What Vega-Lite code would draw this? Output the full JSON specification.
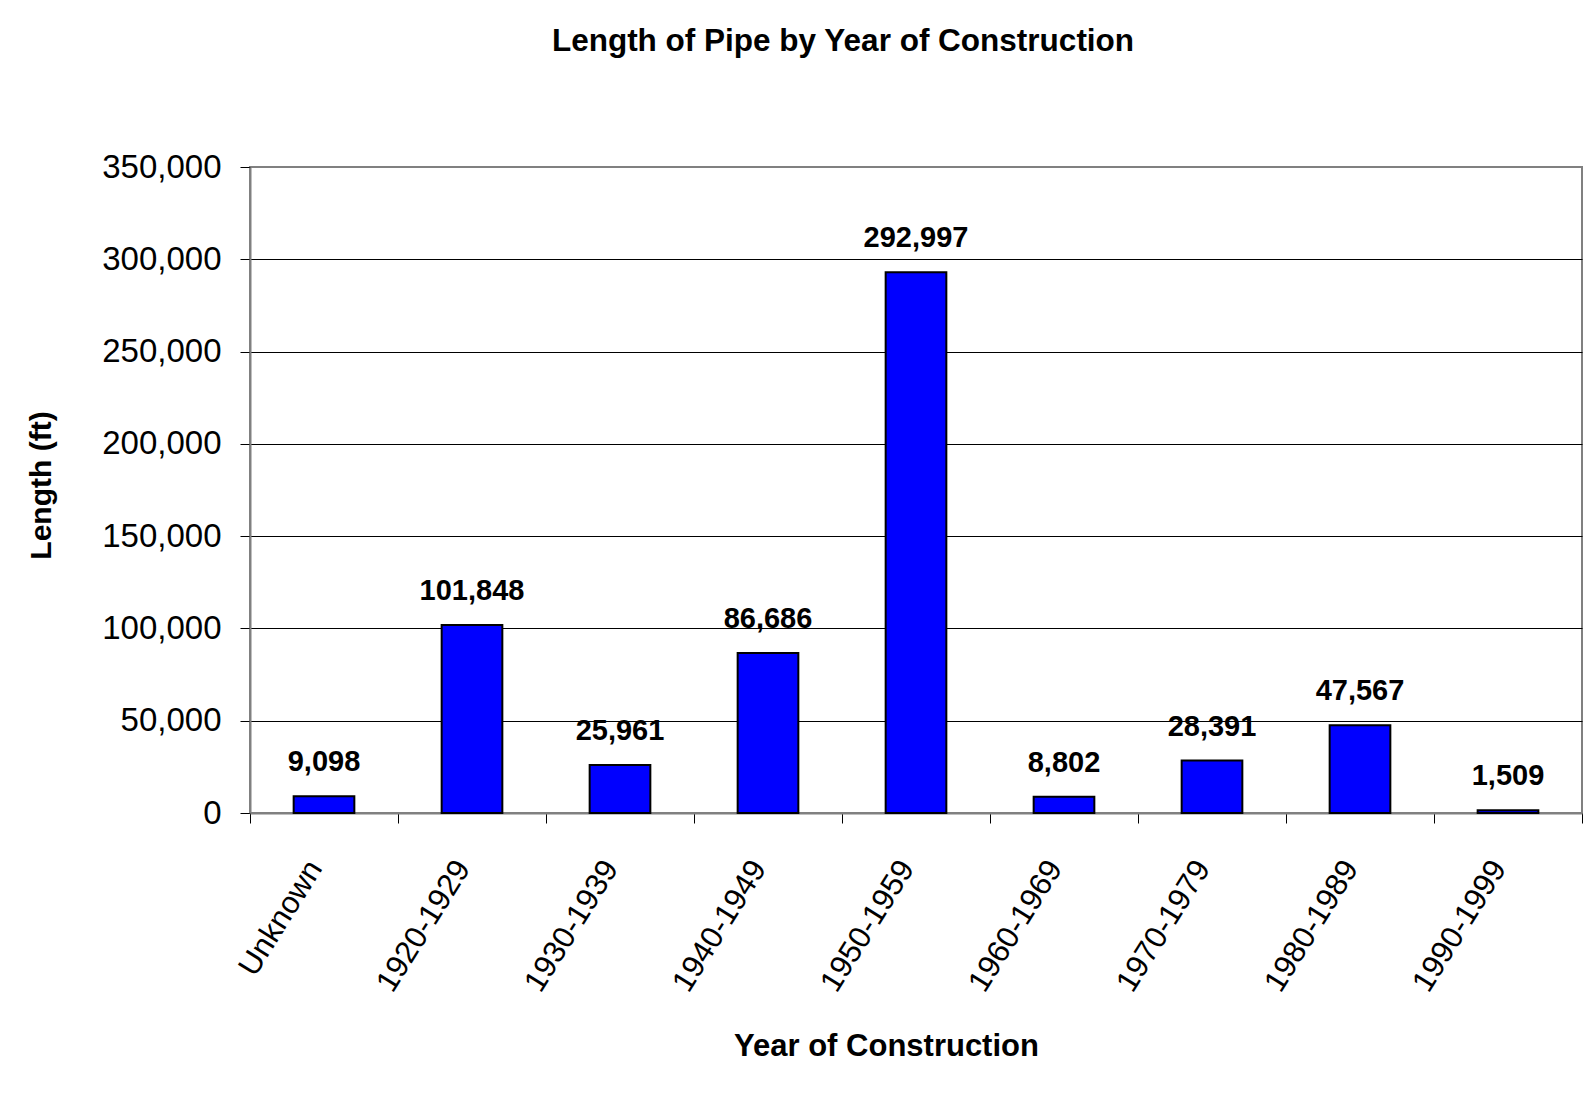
{
  "$schema": "https://vega.github.io/schema/vega-lite/v6.json",
  "width": 1332,
  "height": 646,
  "autosize": {"type": "none"},
  "padding": {"left": 250, "top": 167, "right": 11, "bottom": 282},
  "background": "white",
  "title": {
    "text": "Length of Pipe by Year of Construction",
    "font": "Liberation Sans",
    "fontSize": 31.5,
    "fontWeight": "bold",
    "color": "black",
    "anchor": "middle",
    "dx": -73,
    "offset": 94
  },
  "data": {
    "values": [
      {"decade": "Unknown", "length": 9098},
      {"decade": "1920-1929", "length": 101848},
      {"decade": "1930-1939", "length": 25961},
      {"decade": "1940-1949", "length": 86686},
      {"decade": "1950-1959", "length": 292997},
      {"decade": "1960-1969", "length": 8802},
      {"decade": "1970-1979", "length": 28391},
      {"decade": "1980-1989", "length": 47567},
      {"decade": "1990-1999", "length": 1509}
    ]
  },
  "encoding": {
    "x": {
      "field": "decade",
      "type": "nominal",
      "sort": null,
      "scale": {"paddingInner": 0, "paddingOuter": 0},
      "axis": {
        "title": "Year of Construction",
        "labelAngle": -58,
        "labelAlign": "right",
        "labelBaseline": "middle",
        "labelFont": "Liberation Sans",
        "labelFontSize": 31,
        "labelColor": "black",
        "labelPadding": 40,
        "labelOffset": -9,
        "labelOverlap": false,
        "labelLimit": 0,
        "tickBand": "extent",
        "tickSize": 10,
        "tickColor": "black",
        "tickWidth": 1,
        "domainColor": "#808080",
        "domainWidth": 2,
        "grid": false,
        "titleFont": "Liberation Sans",
        "titleFontSize": 31,
        "titleFontWeight": "bold",
        "titleColor": "black",
        "titleX": 636,
        "titleY": 242,
        "titleAlign": "center",
        "titleBaseline": "alphabetic"
      }
    },
    "y": {
      "field": "length",
      "type": "quantitative",
      "scale": {"domain": [0, 350000], "nice": false},
      "axis": {
        "title": "Length (ft)",
        "values": [0, 50000, 100000, 150000, 200000, 250000, 300000, 350000],
        "format": ",d",
        "labelFont": "Liberation Sans",
        "labelFontSize": 33,
        "labelColor": "black",
        "labelPadding": 19,
        "tickSize": 10,
        "tickColor": "black",
        "tickWidth": 1,
        "domainColor": "#808080",
        "domainWidth": 2,
        "grid": true,
        "gridColor": {"condition": {"test": "datum.value >= 350000 || datum.value <= 0", "value": "#808080"}, "value": "black"},
        "gridWidth": 1,
        "gridOpacity": 1,
        "titleFont": "Liberation Sans",
        "titleFontSize": 30,
        "titleFontWeight": "bold",
        "titleColor": "black",
        "titleAngle": -90,
        "titleX": -209,
        "titleY": 318,
        "titleAlign": "center",
        "titleBaseline": "middle"
      }
    }
  },
  "layer": [
    {
      "mark": {"type": "bar", "width": {"band": 0.41}, "fill": "#0000FF", "stroke": "black", "strokeWidth": 2}
    },
    {
      "mark": {"type": "text", "dy": -25, "baseline": "alphabetic", "font": "Liberation Sans", "fontWeight": "bold", "fontSize": 29, "color": "black"},
      "encoding": {"text": {"field": "length", "type": "quantitative", "format": ",d"}}
    }
  ],
  "config": {
    "view": {"stroke": "#808080", "strokeWidth": 2}
  }
}
